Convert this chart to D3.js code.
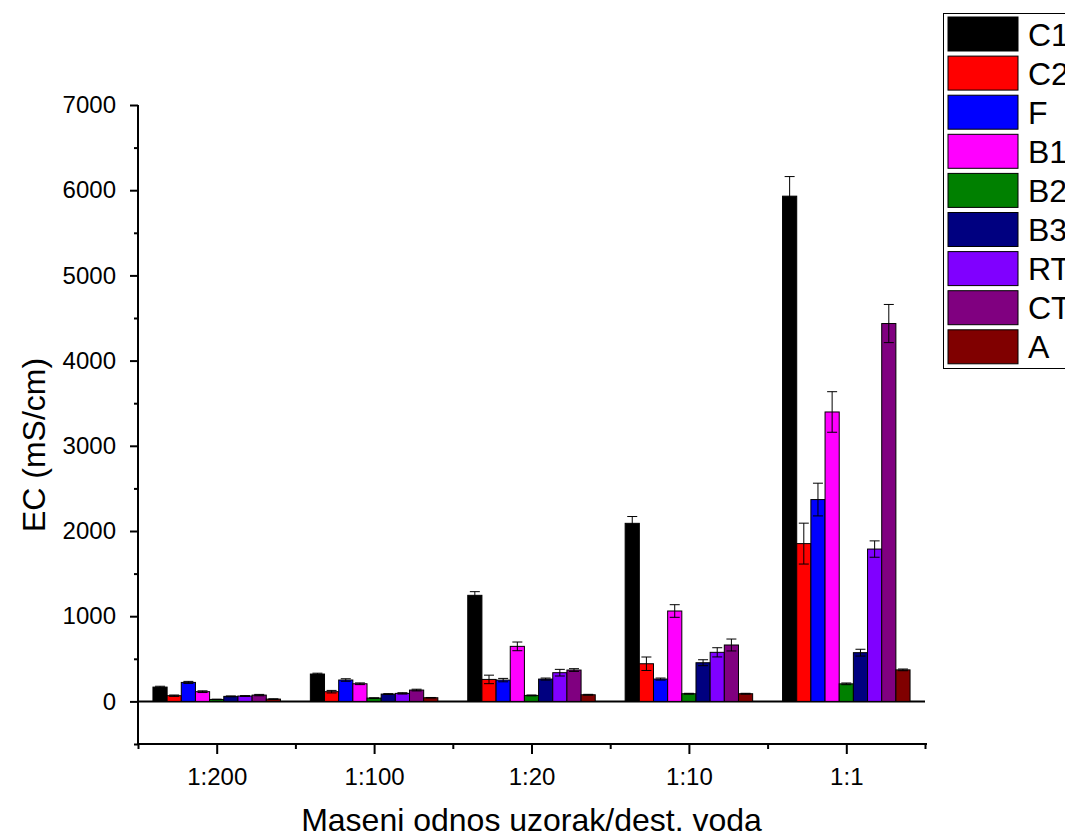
<!DOCTYPE html>
<html>
<head>
<meta charset="utf-8">
<script src="https://cdn.jsdelivr.net/npm/d3@7"></script>
<style>
  html, body { margin: 0; padding: 0; background: #fff; }
  svg { display: block; font-family: "Liberation Sans", Arial, sans-serif; }
</style>
</head>
<body>
<svg id="chart" width="1065" height="836"></svg>
<script>
// Dilution ratios (groups along x)
const categories = ["1:200", "1:100", "1:20", "1:10", "1:1"];
// Samples (bars in each group)
const series = ["C1", "C2", "F", "B1", "B2", "B3", "RT", "CT", "A"];
const colors = ["#000000", "#ff0000", "#0000ff", "#ff00ff", "#008000", "#000080", "#8000ff", "#800080", "#800000"];

// EC values (mS/cm), one array per sample, ordered as categories
const valC1 = [168, 321, 1245, 2090, 5930];
const valC2 = [67, 114, 258, 442, 1852];
const valF  = [223, 251, 250, 262, 2369];
const valB1 = [114, 207, 646, 1061, 3397];
const valB2 = [23, 39, 70, 90, 206];
const valB3 = [59, 86, 262, 454, 572];
const valRT = [63, 94, 337, 576, 1788];
const valCT = [74, 133, 368, 662, 4435];
const valA  = [27, 43, 78, 90, 370];

// Standard deviations
const errC1 = [10, 10, 43, 80, 230];
const errC2 = [8, 15, 50, 79, 240];
const errF  = [12, 15, 20, 12, 192];
const errB1 = [10, 10, 51, 74, 238];
const errB2 = [3, 3, 5, 5, 10];
const errB3 = [5, 5, 12, 35, 40];
const errRT = [5, 8, 39, 54, 96];
const errCT = [8, 10, 16, 70, 224];
const errA  = [3, 3, 5, 5, 10];

const yTicks = [0, 1000, 2000, 3000, 4000, 5000, 6000, 7000];

const values = [valC1, valC2, valF, valB1, valB2, valB3, valRT, valCT, valA];
const errors = [errC1, errC2, errF, errB1, errB2, errB3, errRT, errCT, errA];

const svg = d3.select("#chart");
const FONT = "Liberation Sans, Arial, sans-serif";

const plotLeft = 138, plotRight = 925, plotTop = 105, plotBottom = 744;

const x = d3.scaleLinear().domain([0.5, categories.length + 0.5]).range([plotLeft, plotRight]);
const y = d3.scaleLinear().domain([-500, 7000]).range([plotBottom, plotTop]);
const unit = x(1) - x(0);
const groupWidth = unit * 0.81;
const inner = d3.scaleBand().domain(series).range([-groupWidth / 2, groupWidth / 2]).padding(0);

// flatten into bar records
const bars = [];
series.forEach((s, si) => {
  categories.forEach((c, ci) => {
    bars.push({ s, si, ci, v: values[si][ci], e: errors[si][ci] });
  });
});

// zero baseline
svg.append("line")
  .attr("x1", plotLeft).attr("x2", plotRight)
  .attr("y1", y(0)).attr("y2", y(0))
  .attr("stroke", "#000").attr("stroke-width", 2);

// bars
svg.append("g").selectAll("rect").data(bars).join("rect")
  .attr("x", d => x(d.ci + 1) + inner(d.s))
  .attr("width", inner.bandwidth())
  .attr("y", d => y(d.v))
  .attr("height", d => y(0) - y(d.v))
  .attr("fill", d => colors[d.si])
  .attr("stroke", "#000")
  .attr("stroke-width", 1);

// error bars
const eb = svg.append("g").attr("stroke", "#000").attr("stroke-width", 1);
const cx = d => x(d.ci + 1) + inner(d.s) + inner.bandwidth() / 2;
const capW = 5;
eb.selectAll("line.v").data(bars).join("line").attr("class", "v")
  .attr("x1", cx).attr("x2", cx)
  .attr("y1", d => y(d.v - d.e)).attr("y2", d => y(d.v + d.e));
eb.selectAll("line.t").data(bars).join("line").attr("class", "t")
  .attr("x1", d => cx(d) - capW).attr("x2", d => cx(d) + capW)
  .attr("y1", d => y(d.v + d.e)).attr("y2", d => y(d.v + d.e));
eb.selectAll("line.b").data(bars).join("line").attr("class", "b")
  .attr("x1", d => cx(d) - capW).attr("x2", d => cx(d) + capW)
  .attr("y1", d => y(d.v - d.e)).attr("y2", d => y(d.v - d.e));

// y axis
const yAxis = svg.append("g").attr("transform", `translate(${plotLeft},0)`)
  .call(d3.axisLeft(y).tickValues(yTicks).tickSize(8).tickPadding(14).tickFormat(d3.format("d")));
yAxis.select(".domain").attr("stroke-width", 2).attr("d", `M0,${plotTop}V${plotBottom}`);
yAxis.selectAll(".tick line").attr("stroke-width", 2);
yAxis.selectAll(".tick text").attr("font-size", 24).attr("fill", "#000").attr("font-family", FONT);
svg.append("g").attr("transform", `translate(${plotLeft},0)`)
  .call(d3.axisLeft(y).tickValues(d3.range(-500, 7000, 1000)).tickSize(4).tickFormat(""))
  .call(g => g.select(".domain").remove())
  .selectAll(".tick line").attr("stroke-width", 2);

// x axis
const xAxis = svg.append("g").attr("transform", `translate(0,${plotBottom})`)
  .call(d3.axisBottom(x).tickValues(d3.range(1, categories.length + 1)).tickSize(10).tickPadding(14)
    .tickFormat(d => categories[d - 1]));
xAxis.select(".domain").attr("stroke-width", 2).attr("d", `M${plotLeft},0H${plotRight + 2}`);
xAxis.selectAll(".tick line").attr("stroke-width", 2);
xAxis.selectAll(".tick text").attr("font-size", 24).attr("fill", "#000").attr("font-family", FONT);
svg.append("g").attr("transform", `translate(0,${plotBottom})`)
  .call(d3.axisBottom(x).tickValues(d3.range(0.5, categories.length + 1, 1)).tickSize(5).tickFormat(""))
  .call(g => g.select(".domain").remove())
  .selectAll(".tick line").attr("stroke-width", 2);

// axis titles
svg.append("text")
  .attr("transform", `translate(45,445) rotate(-90)`)
  .attr("text-anchor", "middle")
  .attr("font-size", 32)
  .text("EC (mS/cm)");
svg.append("text")
  .attr("x", (plotLeft + plotRight) / 2).attr("y", 831)
  .attr("text-anchor", "middle")
  .attr("font-size", 32)
  .text("Maseni odnos uzorak/dest. voda");

// legend
const lg = svg.append("g");
lg.append("rect")
  .attr("x", 943.5).attr("y", 13.5).attr("width", 140).attr("height", 355)
  .attr("fill", "#fff").attr("stroke", "#000").attr("stroke-width", 1);
const item = lg.selectAll("g.item").data(series).join("g").attr("class", "item")
  .attr("transform", (d, i) => `translate(948,${17 + i * 39.1})`);
item.append("rect")
  .attr("width", 70).attr("height", 34)
  .attr("fill", (d, i) => colors[i])
  .attr("stroke", "#000").attr("stroke-width", 1);
item.append("text")
  .attr("x", 80).attr("y", 17).attr("dy", "0.36em")
  .attr("font-size", 32)
  .text(d => d);
</script>
</body>
</html>
